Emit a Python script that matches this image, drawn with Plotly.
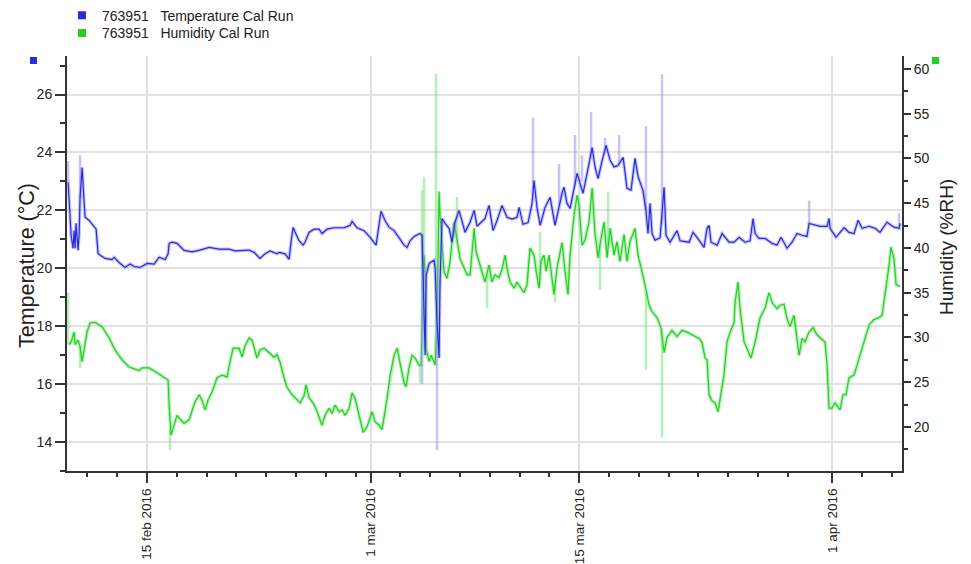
import pandas as pd
import plotly.graph_objects as go

BASE = pd.Timestamp("2016-02-09")

# ---- Temperature (°C): days since 2016-02-09 00:00, value ----
temp_days = [0.70, 0.77, 0.90, 1.03, 1.10, 1.17, 1.23, 1.37, 1.44, 1.50, 1.64, 1.77, 1.84, 2.11, 2.44, 2.58,
             2.71, 2.85, 3.18, 3.65, 3.79, 4.12, 4.52, 4.86, 5.13, 5.53, 6.00, 6.47, 6.81, 7.21, 7.41, 7.48,
             7.68, 8.01, 8.48, 9.02, 9.49, 10.16, 10.83, 11.50, 11.91, 12.85, 13.18, 13.58, 13.92, 14.26, 14.72,
             14.86, 15.26, 15.53, 15.66, 15.80, 15.93, 16.20, 16.47, 16.60, 16.87, 17.21, 17.54, 17.74, 18.08,
             18.55, 19.22, 19.62, 19.76, 20.09, 20.56, 20.97, 21.37, 21.57, 21.70, 21.97, 22.24, 22.58, 22.91,
             23.25, 23.45, 23.65, 23.92, 24.32, 24.46, 24.52, 24.59, 24.66, 24.73, 24.93, 25.26, 25.33, 25.46,
             25.60, 25.66, 25.80, 26.00, 26.27, 26.47, 26.67, 26.94, 27.14, 27.34, 27.68, 27.95, 28.15, 28.35,
             28.68, 28.95, 29.22, 29.49, 29.82, 30.16, 30.50, 30.83, 30.97, 31.23, 31.57, 31.84, 31.97, 32.17,
             32.38, 32.71, 33.05, 33.38, 33.58, 33.85, 33.98, 34.18, 34.39, 34.59, 34.86, 35.06, 35.26, 35.53,
             35.87, 36.07, 36.27, 36.54, 36.81, 37.08, 37.34, 37.61, 37.95, 38.21, 38.48, 38.75, 38.95, 39.28,
             39.48, 39.62, 39.76, 39.89, 40.09, 40.43, 40.70, 40.83, 41.10, 41.57, 41.77, 42.38, 42.64, 42.91,
             43.38, 43.58, 43.72, 43.85, 44.26, 44.59, 45.06, 45.40, 45.73, 46.13, 46.47, 46.67, 46.81, 47.07,
             47.48, 47.95, 48.28, 48.55, 48.95, 49.29, 49.62, 49.96, 50.29, 50.43, 50.77, 51.17, 51.64, 51.77,
             51.84, 52.24, 52.78, 53.11, 53.45, 53.72, 53.99, 54.46, 54.86, 55.19, 55.66, 56.13, 56.47, 56.54]
temp_vals = [22.97, 22.28, 21.14, 20.69, 21.3, 20.69, 21.55, 20.62, 21.2, 22.41, 23.48, 22.3, 21.76, 21.65, 21.41, 21.35,
             20.52, 20.45, 20.34, 20.3, 20.38, 20.2, 20.03, 20.15, 20.06, 20.03, 20.17, 20.14, 20.38, 20.3, 20.5, 20.86,
             20.9, 20.86, 20.62, 20.57, 20.62, 20.72, 20.66, 20.66, 20.6, 20.63, 20.55, 20.34, 20.5, 20.6, 20.5,
             20.55, 20.5, 20.31, 20.9, 21.41, 21.25, 20.95, 20.8, 20.9, 21.24, 21.35, 21.35, 21.2, 21.35,
             21.4, 21.4, 21.48, 21.62, 21.4, 21.3, 21.07, 20.8, 21.5, 21.97, 21.65, 21.42, 21.3, 21.03,
             20.8, 20.72, 20.95, 21.1, 21.2, 21.14, 19.86, 17.93, 17.0, 19.76, 20.17, 20.28, 20.0, 18.14,
             16.9, 19.5, 21.72, 21.55, 21.38, 20.9, 21.6, 22.0, 21.6, 21.24, 21.6, 22.0, 21.45, 21.55,
             21.72, 22.17, 21.3, 21.65, 22.17, 21.76, 21.7, 21.76, 22.1, 21.52, 21.58, 22.24, 23.03, 22.1,
             21.48, 22.1, 22.45, 21.48, 22.0, 22.59, 22.8, 22.24, 22.07, 22.59, 23.28, 22.93, 22.59, 23.28,
             24.17, 23.48, 23.1, 23.72, 24.24, 23.72, 23.5, 23.55, 23.83, 22.76, 22.7, 23.8, 23.17, 22.69,
             22.0, 21.2, 22.24, 21.2, 20.97, 21.05, 22.8, 21.14, 20.9, 21.3, 20.95, 20.9, 21.24, 21.07,
             20.72, 21.38, 21.48, 20.9, 20.8, 21.2, 20.9, 20.9, 21.07, 20.9, 20.95, 21.72, 21.2, 21.03,
             21.03, 20.86, 20.8, 21.07, 20.69, 20.9, 21.2, 21.14, 21.1, 21.55, 21.5, 21.45, 21.45, 21.72,
             21.38, 21.07, 21.4, 21.24, 21.2, 21.66, 21.38, 21.45, 21.38, 21.24, 21.59, 21.42, 21.38, 21.55]

# raw-reading excursions of temperature (day, smoothed value, extreme)
temp_spike_days = [0.70, 1.50, 24.46, 25.46, 31.90, 33.65, 34.72, 35.19, 35.80, 36.74, 37.68, 39.48, 40.56, 50.43, 56.47]
temp_spike_base = [22.97, 22.41, 21.14, 18.14, 22.5, 22.2, 22.8, 23.0, 23.8, 24.0, 23.6, 22.0, 21.5, 21.55, 21.38]
temp_spike_peak = [23.7, 23.9, 16.0, 13.72, 25.2, 23.6, 24.6, 23.9, 25.4, 24.5, 24.6, 24.9, 26.7, 22.34, 21.9]

# ---- Humidity (%RH) ----
hum_days = [0.77, 0.90, 1.10, 1.17, 1.37, 1.50, 1.64, 1.84, 1.97, 2.17, 2.51, 2.98, 3.45, 3.85, 4.32, 4.79,
            5.19, 5.46, 5.66, 6.13, 6.54, 7.01, 7.41, 7.48, 7.61, 7.81, 8.01, 8.21, 8.48, 8.82, 9.02, 9.22,
            9.49, 9.69, 9.89, 10.09, 10.36, 10.70, 11.03, 11.37, 11.57, 11.77, 12.17, 12.38, 12.58, 12.85, 13.05,
            13.38, 13.58, 13.85, 14.19, 14.52, 14.72, 14.93, 15.19, 15.40, 15.73, 15.93, 16.27, 16.54, 16.67,
            16.87, 17.21, 17.41, 17.74, 17.95, 18.21, 18.42, 18.62, 18.89, 19.09, 19.29, 19.56, 19.76, 19.96,
            20.23, 20.50, 20.76, 21.10, 21.30, 21.57, 21.77, 22.11, 22.31, 22.58, 22.78, 22.98, 23.25, 23.38,
            23.58, 23.78, 23.99, 24.25, 24.39, 24.46, 24.59, 24.66, 24.73, 24.93, 25.06, 25.26, 25.33, 25.46,
            25.60, 25.66, 25.80, 25.93, 26.13, 26.33, 26.60, 26.80, 27.01, 27.27, 27.48, 27.68, 27.95, 28.08,
            28.28, 28.48, 28.68, 28.95, 29.15, 29.35, 29.62, 29.82, 30.03, 30.16, 30.36, 30.63, 30.83, 31.03,
            31.30, 31.50, 31.70, 31.97, 32.11, 32.31, 32.44, 32.64, 32.78, 32.98, 33.11, 33.31, 33.52, 33.85,
            34.05, 34.25, 34.39, 34.66, 34.86, 34.99, 35.19, 35.39, 35.66, 35.87, 36.07, 36.27, 36.40, 36.67,
            36.87, 37.08, 37.34, 37.54, 37.74, 38.01, 38.21, 38.41, 38.75, 38.95, 39.15, 39.42, 39.69, 39.89,
            40.23, 40.49, 40.70, 40.90, 41.23, 41.57, 41.90, 42.24, 42.58, 43.05, 43.25, 43.45, 43.58, 43.72,
            43.92, 44.12, 44.32, 44.45, 44.72, 44.92, 45.13, 45.40, 45.46, 45.66, 45.80, 46.07, 46.27, 46.53,
            46.81, 47.14, 47.48, 47.74, 47.95, 48.28, 48.48, 48.75, 48.95, 49.15, 49.42, 49.62, 49.76, 49.96,
            50.16, 50.43, 50.70, 50.96, 51.30, 51.50, 51.64, 51.77, 51.97, 52.17, 52.51, 52.71, 52.91, 53.11,
            53.45, 53.65, 53.99, 54.46, 54.79, 55.12, 55.33, 55.53, 55.80, 55.93, 56.13, 56.27, 56.54]
hum_vals = [29.2, 29.5, 30.6, 29.2, 29.7, 29.0, 27.3, 29.5, 30.6, 31.6, 31.7, 31.2, 29.95, 28.6, 27.5, 26.7,
            26.5, 26.3, 26.6, 26.6, 26.2, 25.7, 25.25, 22.45, 19.1, 20.2, 21.3, 20.9, 20.4, 20.8, 21.7, 22.8,
            23.6, 23.0, 21.9, 23.0, 23.9, 25.5, 25.8, 25.6, 27.3, 28.8, 28.8, 27.8, 29.1, 29.95, 29.7,
            27.7, 28.6, 28.8, 28.3, 27.8, 28.1, 27.2, 25.5, 24.4, 23.6, 23.3, 22.7, 23.5, 24.7,
            23.3, 22.5, 21.7, 20.2, 21.3, 22.1, 21.5, 22.45, 21.7, 21.9, 21.3, 22.1, 23.8, 23.2,
            21.3, 19.4, 20.0, 21.7, 20.6, 20.2, 19.7, 23.2, 25.8, 28.0, 28.8, 27.3, 24.9, 24.5,
            26.6, 28.0, 27.7, 26.9, 26.9, 31.1, 39.2, 37.3, 28.8, 27.3, 28.0, 27.3, 26.9, 31.7,
            46.3, 43.7, 40.0, 37.3, 36.6, 38.4, 42.9, 40.7, 38.8, 37.8, 37.0, 37.0, 42.2, 39.6,
            38.3, 37.3, 36.2, 38.1, 36.2, 37.0, 36.7, 37.6, 39.2, 37.7, 36.2, 35.5, 36.2, 35.7,
            35.0, 35.9, 40.0, 39.2, 37.4, 35.5, 38.5, 39.2, 37.4, 39.2, 37.4, 34.8, 37.8, 40.6,
            37.4, 34.8, 39.2, 43.7, 45.9, 44.8, 40.3, 40.9, 42.9, 46.7, 41.5, 38.9, 40.4, 42.9,
            38.9, 42.2, 39.2, 40.7, 38.5, 41.5, 38.5, 40.7, 42.2, 39.2, 37.8, 35.9, 33.6, 32.9,
            32.2, 31.1, 28.3, 30.0, 30.8, 30.1, 30.8, 30.6, 30.3, 29.9, 29.4, 27.7, 27.5, 23.6,
            22.9, 22.7, 21.7, 23.2, 25.8, 29.5, 30.6, 31.7, 33.9, 36.2, 33.2, 29.5, 28.8, 27.7,
            29.5, 32.2, 33.3, 35.0, 33.9, 33.2, 33.6, 33.7, 32.1, 31.2, 32.5, 29.9, 28.0, 29.9,
            29.5, 30.6, 31.1, 30.3, 29.8, 29.5, 26.9, 22.1, 22.1, 22.7, 21.9, 23.6, 23.6, 25.5,
            25.8, 26.9, 28.8, 31.4, 32.0, 32.2, 32.5, 34.8, 38.1, 40.1, 38.8, 35.9, 35.7]

hum_spike_days = [0.70, 1.50, 7.54, 24.32, 24.46, 24.59, 25.39, 26.80, 28.82, 32.37, 33.38, 36.40, 36.94, 39.48, 40.56]
hum_spike_base = [29.2, 29.0, 20.0, 26.9, 31.1, 39.2, 28.0, 40.7, 37.0, 36.0, 36.0, 40.4, 40.0, 35.0, 31.0]
hum_spike_peak = [35.0, 26.6, 17.4, 24.9, 46.5, 47.9, 59.5, 45.7, 33.3, 41.8, 33.9, 35.3, 46.3, 26.4, 18.8]

x_tick_dates = ["2016-02-15", "2016-03-01", "2016-03-15", "2016-04-01"]
x_tick_text = ["15 feb 2016", "1 mar 2016", "15 mar 2016", "1 apr 2016"]
x_minor_dates = ["2016-02-11", "2016-02-13", "2016-02-17", "2016-02-19", "2016-02-21", "2016-02-23",
                 "2016-02-25", "2016-02-27", "2016-02-29", "2016-03-03", "2016-03-05", "2016-03-07",
                 "2016-03-09", "2016-03-11", "2016-03-13", "2016-03-17", "2016-03-19", "2016-03-21",
                 "2016-03-23", "2016-03-25", "2016-03-27", "2016-03-29", "2016-04-03", "2016-04-05"]

legend_names = ["763951\u00a0\u00a0\u00a0Temperature Cal Run", "763951\u00a0\u00a0\u00a0Humidity Cal Run"]


def to_time(days):
    return list(BASE + pd.to_timedelta(days, unit="D"))


def spike_xy(days, base, peak):
    xs, ys = [], []
    t = to_time(days)
    for ti, b, p in zip(t, base, peak):
        xs += [ti, ti, None]
        ys += [b, p, None]
    return xs, ys


BLUE = "#2a2ae0"
BLUE_L = "rgba(150,150,240,0.55)"
GREEN = "#22d022"
GREEN_L = "rgba(120,230,120,0.55)"
FONT = "Liberation Sans"

fig = go.Figure()

# legend-only entries (one legend box each, so the rows sit where the reference has them)
fig.add_trace(go.Scatter(x=[None], y=[None], mode="markers", name=legend_names[0], legend="legend",
                         marker=dict(symbol="square", size=8, color=BLUE)))
fig.add_trace(go.Scatter(x=[None], y=[None], mode="markers", name=legend_names[1], legend="legend2",
                         marker=dict(symbol="square", size=8, color=GREEN)))

# humidity on base axis (right side)
ht = to_time(hum_days)
sx, sy = spike_xy(hum_spike_days, hum_spike_base, hum_spike_peak)
fig.add_trace(go.Scatter(x=sx, y=sy, mode="lines", line=dict(color=GREEN_L, width=2.5),
                         showlegend=False, yaxis="y", connectgaps=False))
fig.add_trace(go.Scatter(x=ht, y=hum_vals, mode="lines", line=dict(color=GREEN_L, width=3.5),
                         showlegend=False, yaxis="y"))
fig.add_trace(go.Scatter(x=ht, y=hum_vals, mode="lines", line=dict(color=GREEN, width=1.2),
                         showlegend=False, yaxis="y"))

# temperature on overlaying axis (left side)
tt = to_time(temp_days)
sx, sy = spike_xy(temp_spike_days, temp_spike_base, temp_spike_peak)
fig.add_trace(go.Scatter(x=sx, y=sy, mode="lines", line=dict(color=BLUE_L, width=2.5),
                         showlegend=False, yaxis="y2", connectgaps=False))
fig.add_trace(go.Scatter(x=tt, y=temp_vals, mode="lines", line=dict(color=BLUE_L, width=3.5),
                         showlegend=False, yaxis="y2"))
fig.add_trace(go.Scatter(x=tt, y=temp_vals, mode="lines", line=dict(color=BLUE, width=1.2),
                         showlegend=False, yaxis="y2"))

AX = "#333333"
TICKF = dict(family=FONT, size=14, color="#222222")
XTICKF = dict(family=FONT, size=13.5, color="#222222")
LEGF = dict(family=FONT, size=14, color="#222222")

fig.update_layout(
    width=971, height=564,
    margin=dict(l=67, r=69, t=56, b=93, autoexpand=False),
    paper_bgcolor="white", plot_bgcolor="white",
    font=dict(family=FONT, size=14, color="#222222"),
    showlegend=True,
    legend=dict(x=-0.006, y=1.0975, xanchor="left", yanchor="middle", font=LEGF,
                bgcolor="rgba(0,0,0,0)", itemwidth=30, borderwidth=0),
    legend2=dict(x=-0.006, y=1.0545, xanchor="left", yanchor="middle", font=LEGF,
                 bgcolor="rgba(0,0,0,0)", itemwidth=30, borderwidth=0),
    xaxis=dict(
        type="date",
        range=["2016-02-09 15:00", "2016-04-05 16:00"],
        tickmode="array", tickvals=x_tick_dates, ticktext=x_tick_text,
        tickangle=-90, ticks="outside", ticklen=10, tickwidth=1.5, tickcolor=AX,
        tickfont=XTICKF,
        showline=True, linecolor=AX, linewidth=2,
        showgrid=True, gridcolor="#e2e2e2", gridwidth=1.5,
        minor=dict(tickmode="array", tickvals=x_minor_dates, ticks="outside", ticklen=4,
                   tickwidth=1.5, tickcolor=AX, showgrid=False),
        zeroline=False,
    ),
    yaxis=dict(
        side="right", range=[15.08, 61.45],
        tickmode="linear", tick0=20, dtick=5,
        ticks="outside", ticklen=7, tickwidth=1.5, tickcolor=AX,
        tickfont=TICKF,
        showline=True, linecolor=AX, linewidth=2,
        showgrid=False, zeroline=False,
        minor=dict(dtick=2.5, tick0=20, ticks="outside", ticklen=4, tickwidth=1.5, tickcolor=AX, showgrid=False),
    ),
    yaxis2=dict(
        side="left", overlaying="y", range=[13.0, 27.33],
        tickmode="linear", tick0=14, dtick=2,
        ticks="outside", ticklen=10, tickwidth=1.5, tickcolor=AX,
        tickfont=TICKF,
        showline=True, linecolor=AX, linewidth=2,
        showgrid=True, gridcolor="#e2e2e2", gridwidth=1.5, zeroline=False,
        minor=dict(dtick=1, tick0=14, ticks="outside", ticklen=5, tickwidth=1.5, tickcolor=AX, showgrid=False),
    ),
    annotations=[
        dict(text="Temperature (°C)", xref="paper", yref="paper", x=-0.048, y=0.496,
             textangle=-90, showarrow=False, font=dict(family=FONT, size=21.5, color="#222222"),
             xanchor="center", yanchor="middle"),
        dict(text="Humidity (%RH)", xref="paper", yref="paper", x=1.054, y=0.54,
             textangle=-90, showarrow=False, font=dict(family=FONT, size=19, color="#222222"),
             xanchor="center", yanchor="middle"),
    ],
    shapes=[
        dict(type="rect", xref="paper", yref="paper", x0=-0.0443, x1=-0.0359, y0=0.9807, y1=0.9976,
             fillcolor=BLUE, line=dict(width=0)),
        dict(type="rect", xref="paper", yref="paper", x0=1.0359, x1=1.0443, y0=0.9807, y1=0.9976,
             fillcolor=GREEN, line=dict(width=0)),
    ],
)

fig.write_html("out.html", config={"displayModeBar": False},
               post_script="document.body.style.margin='0';document.body.style.padding='0';")
